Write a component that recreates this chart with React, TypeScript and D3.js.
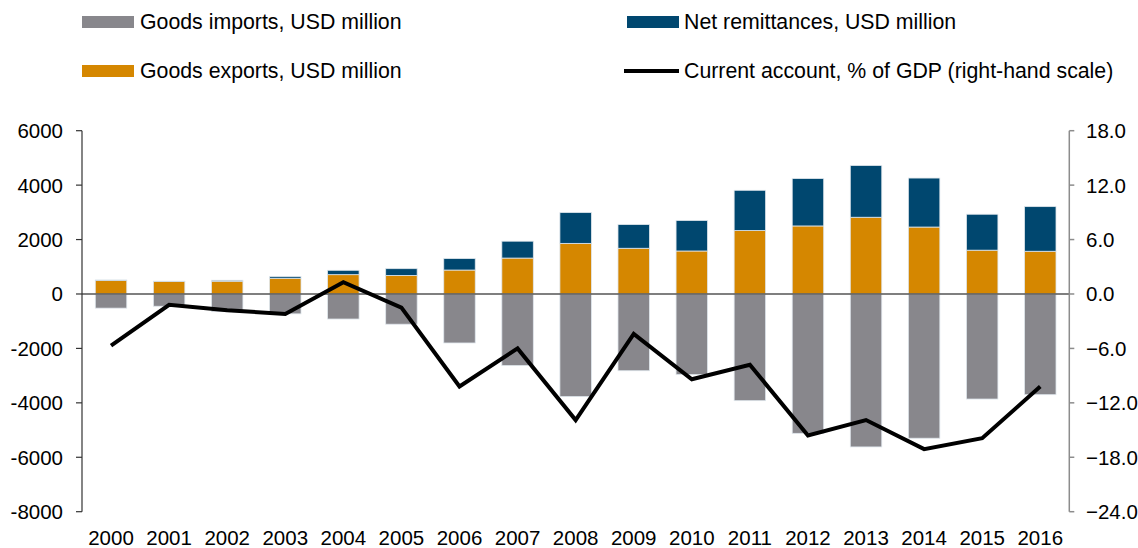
import React from "react";
import * as d3 from "d3";

const years = ["2000","2001","2002","2003","2004","2005","2006","2007","2008","2009","2010","2011","2012","2013","2014","2015","2016"];
const goodsExports = [500, 460, 470, 580, 710, 680, 880, 1320, 1860, 1680, 1580, 2330, 2500, 2820, 2460, 1610, 1570];
const netRemittances = [15, 10, 35, 60, 160, 250, 420, 620, 1130, 870, 1120, 1480, 1740, 1900, 1800, 1320, 1640];
const goodsImports = [-520, -450, -650, -730, -920, -1110, -1800, -2630, -3770, -2820, -2960, -3920, -5120, -5620, -5300, -3860, -3700];
const currentAccount = [-5.7, -1.2, -1.8, -2.2, 1.3, -1.5, -10.2, -6.0, -13.9, -4.4, -9.4, -7.8, -15.6, -13.9, -17.1, -15.9, -10.2];
const leftTicks = [-8000, -6000, -4000, -2000, 0, 2000, 4000, 6000];
const rightTicks = [-24, -18, -12, -6, 0, 6, 12, 18];

const COLORS = { imports: "#88878c", exports: "#d58700", remit: "#00476f", line: "#000000" };
const FONT = "'Liberation Sans', Arial, Helvetica, sans-serif";

export default function App() {
  const W = 1138, H = 548;
  const x0 = 82, x1 = 1069.3, yTop = 130.7, yBot = 511.7;
  const x = d3.scaleBand<string>().domain(years).range([x0, x1]).paddingInner(0.458).paddingOuter(0.229);
  const yL = d3.scaleLinear().domain([-8000, 6000]).range([yBot, yTop]);
  const yR = d3.scaleLinear().domain([-24, 18]).range([yBot, yTop]);
  const bw = x.bandwidth();
  const cx = (y: string) => (x(y) as number) + bw / 2;

  const line = d3.line<number>().x((_, i) => cx(years[i])).y((v) => yR(v));

  const barStroke = "#dfe6ec";
  const AX = 20.5;
  const LG = 21.3;

  return (
    <svg width={W} height={H} style={{ position: "absolute", left: 0, top: 0, background: "#fff" }} fontFamily={FONT}>
      {/* Legend */}
      <g>
        <rect x={82} y={16} width={52} height={12} fill={COLORS.imports} />
        <text x={140} y={29} fontSize={LG} fill="#000">Goods imports, USD million</text>
        <rect x={82} y={65} width={52} height={12} fill={COLORS.exports} />
        <text x={140} y={78} fontSize={LG} fill="#000">Goods exports, USD million</text>
        <rect x={627} y={16} width={52} height={12} fill={COLORS.remit} />
        <text x={684} y={29} fontSize={LG} fill="#000">Net remittances, USD million</text>
        <line x1={624} x2={679} y1={71} y2={71} stroke={COLORS.line} strokeWidth={4} />
        <text x={684} y={78} fontSize={LG} fill="#000">Current account, % of GDP (right-hand scale)</text>
      </g>

      {/* Bars */}
      <g>
        {years.map((yr, i) => (
          <g key={yr}>
            <rect x={x(yr)} y={yL(0)} width={bw} height={yL(goodsImports[i]) - yL(0)} fill={COLORS.imports} stroke={barStroke} strokeWidth={0.8} />
            <rect x={x(yr)} y={yL(goodsExports[i])} width={bw} height={yL(0) - yL(goodsExports[i])} fill={COLORS.exports} stroke={barStroke} strokeWidth={0.8} />
            <rect x={x(yr)} y={yL(goodsExports[i] + netRemittances[i])} width={bw} height={yL(goodsExports[i]) - yL(goodsExports[i] + netRemittances[i])} fill={COLORS.remit} stroke={barStroke} strokeWidth={0.8} />
          </g>
        ))}
      </g>

      {/* Zero line */}
      <line x1={x0} x2={x1} y1={yL(0)} y2={yL(0)} stroke="#555" strokeWidth={1.3} />

      {/* Left axis */}
      <g>
        <line x1={x0} x2={x0} y1={yTop} y2={yBot} stroke="#333" strokeWidth={1.2} />
        {leftTicks.map((t) => (
          <g key={t}>
            <line x1={x0 - 6} x2={x0} y1={yL(t)} y2={yL(t)} stroke="#333" strokeWidth={1.2} />
            <text x={63} y={yL(t)} dy="0.36em" textAnchor="end" fontSize={AX} fill="#000">{t}</text>
          </g>
        ))}
      </g>

      {/* Right axis */}
      <g>
        <line x1={x1} x2={x1} y1={yTop} y2={yBot} stroke="#8c8c8c" strokeWidth={1.5} />
        {rightTicks.map((t) => (
          <g key={t}>
            <line x1={x1} x2={x1 + 5} y1={yR(t)} y2={yR(t)} stroke="#8c8c8c" strokeWidth={1.5} />
            <text x={1086} y={yR(t)} dy="0.36em" textAnchor="start" fontSize={AX} fill="#000">{d3.format(".1f")(t)}</text>
          </g>
        ))}
      </g>

      {/* X labels */}
      <g>
        {years.map((yr) => (
          <text key={yr} x={cx(yr)} y={545} textAnchor="middle" fontSize={AX} fill="#000">{yr}</text>
        ))}
      </g>

      {/* Current account line */}
      <path d={line(currentAccount) || ""} fill="none" stroke={COLORS.line} strokeWidth={4} strokeLinejoin="miter" />
    </svg>
  );
}
